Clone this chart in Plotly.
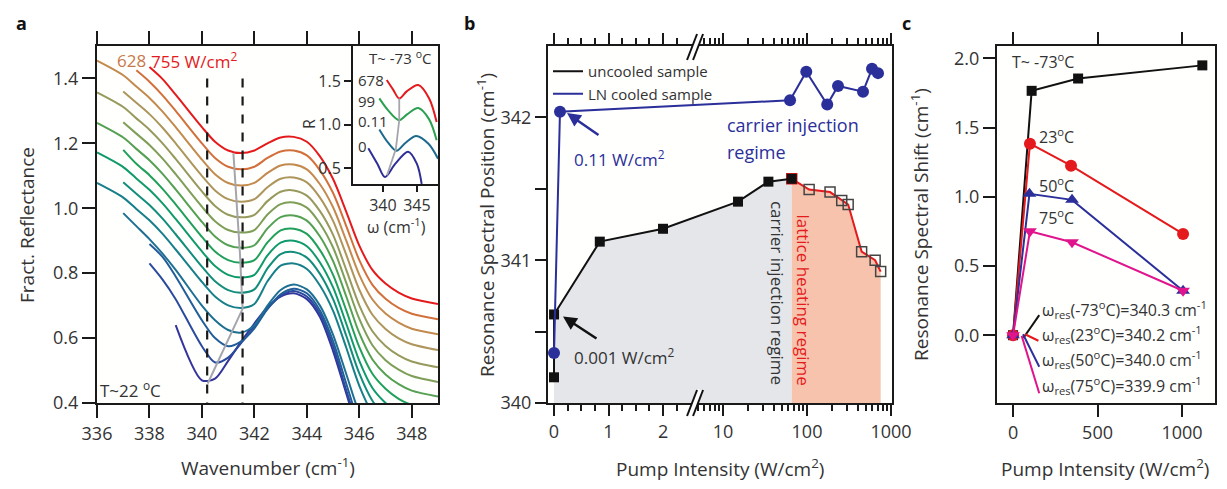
import numpy as np
import plotly.graph_objects as go

N = None
# ---------------- panel a : reflectance spectra (T~22 C) ----------------
WN = [336, 337, 337.5, 338, 338.5, 339, 340, 340.5, 341, 341.5, 342, 342.5,
      343, 343.5, 344, 344.5, 345, 345.5, 346, 346.5, 347, 347.5, 348, 349]
R_755 = [N, N, N, 1.435, 1.398, 1.35, 1.25, 1.205, 1.178, 1.17, 1.178, 1.2, 1.218, 1.22, 1.205, 1.16, 1.09, 0.99, 0.885, 0.81, 0.768, 0.74, 0.722, 0.705]
R_628 = [N, N, 1.425, 1.39, 1.348, 1.30, 1.20, 1.155, 1.128, 1.12, 1.128, 1.155, 1.175, 1.178, 1.163, 1.117, 1.047, 0.946, 0.84, 0.764, 0.721, 0.693, 0.675, 0.658]
R_c2 = [1.455, 1.41, 1.375, 1.34, 1.298, 1.25, 1.15, 1.105, 1.078, 1.07, 1.078, 1.109, 1.132, 1.135, 1.12, 1.074, 1.003, 0.901, 0.795, 0.719, 0.676, 0.648, 0.629, 0.612]
R_308 = [N, 1.36, 1.325, 1.29, 1.248, 1.20, 1.10, 1.055, 1.028, 1.02, 1.028, 1.065, 1.091, 1.095, 1.08, 1.033, 0.961, 0.857, 0.749, 0.672, 0.628, 0.599, 0.581, 0.563]
R_c4 = [1.357, 1.312, 1.277, 1.242, 1.2, 1.152, 1.052, 1.007, 0.98, 0.972, 0.98, 1.022, 1.051, 1.055, 1.039, 0.991, 0.918, 0.811, 0.701, 0.621, 0.576, 0.547, 0.528, 0.51]
R_193 = [N, 1.265, 1.23, 1.195, 1.153, 1.105, 1.005, 0.96, 0.933, 0.925, 0.933, 0.981, 1.013, 1.018, 1.002, 0.953, 0.879, 0.771, 0.659, 0.578, 0.532, 0.503, 0.483, 0.465]
R_c6 = [1.263, 1.218, 1.183, 1.148, 1.106, 1.058, 0.958, 0.913, 0.886, 0.878, 0.886, 0.938, 0.973, 0.978, 0.962, 0.913, 0.837, 0.729, 0.615, 0.534, 0.488, 0.458, 0.438, 0.42]
R_65 = [N, 1.18, 1.137, 1.102, 1.06, 1.012, 0.912, 0.867, 0.84, 0.832, 0.84, 0.895, 0.932, 0.937, 0.921, 0.871, 0.795, 0.686, 0.572, 0.49, 0.444, 0.413, 0.394, 0.375]
R_c8 = [1.172, 1.127, 1.092, 1.057, 1.015, 0.967, 0.867, 0.822, 0.795, 0.787, 0.795, 0.855, 0.894, 0.9, 0.883, 0.833, 0.756, 0.645, 0.53, 0.446, 0.4, 0.369, 0.349, 0.33]
R_15 = [N, 1.08, 1.045, 1.01, 0.968, 0.92, 0.82, 0.775, 0.748, 0.74, 0.75, 0.815, 0.859, 0.865, 0.848, 0.798, 0.72, 0.608, 0.491, 0.407, 0.36, 0.329, 0.309, 0.29]
R_c10 = [1.078, 1.033, 0.998, 0.963, 0.921, 0.873, 0.773, 0.728, 0.701, 0.693, 0.705, 0.775, 0.823, 0.83, 0.813, 0.762, 0.684, 0.571, 0.453, 0.368, 0.321, 0.289, 0.269, 0.25]
R_2 = [N, 0.985, 0.945, 0.905, 0.86, 0.81, 0.70, 0.655, 0.625, 0.617, 0.64, 0.70, 0.748, 0.765, 0.75, 0.70, 0.61, 0.49, 0.37, 0.30, N, N, N, N]
R_c12 = [N, N, N, 0.89, 0.85, 0.79, 0.655, 0.60, 0.575, 0.59, 0.63, 0.69, 0.735, 0.752, 0.738, 0.685, 0.59, 0.46, 0.33, N, N, N, N, N]
R_0001 = [N, N, N, 0.83, 0.78, 0.72, 0.575, 0.525, 0.54, 0.585, 0.635, 0.69, 0.73, 0.745, 0.728, 0.675, 0.575, 0.44, 0.31, N, N, N, N, N]
R_nopump = [N, N, N, N, N, 0.64, 0.47, 0.475, 0.53, 0.59, 0.645, 0.695, 0.728, 0.738, 0.72, 0.665, 0.56, 0.43, 0.30, N, N, N, N, N]
SPECTRA = [R_755, R_628, R_c2, R_308, R_c4, R_193, R_c6, R_65, R_c8, R_15, R_c10, R_2, R_c12, R_0001, R_nopump]
SPEC_COLORS = ['#e41a1c', '#d2703c', '#c38a4e', '#ad955c', '#979a5c', '#7f9e58', '#55a052', '#20a05a',
               '#109a6c', '#128d7c', '#177f8a', '#1d6f93', '#225d99', '#2a4a9e', '#33349c']
MIN_TRACK_X = [341.2, 341.45, 341.55, 340.22]
MIN_TRACK_Y = [1.17, 0.86, 0.69, 0.46]
DASH_X = [340.2, 341.55]

# inset (T~ -73 C)
IN_678_X = [340.56, 341.5, 342.4, 343.5, 345.2, 346.8, 347.9]
IN_678_Y = [1.51, 1.40, 1.30, 1.38, 1.454, 1.30, 1.03]
IN_99_X = [339.47, 340.8, 342.4, 343.6, 345.2, 346.8, 347.9]
IN_99_Y = [1.30, 1.16, 1.05, 1.12, 1.19, 1.06, 0.82]
IN_011_X = [339.47, 340.7, 342.0, 343.3, 344.9, 346.7, 348.1]
IN_011_Y = [0.945, 0.80, 0.70, 0.79, 0.87, 0.78, 0.61]
IN_0_X = [337.85, 339.2, 340.3, 341.8, 343.7, 345.0, 345.7]
IN_0_Y = [0.73, 0.55, 0.40, 0.55, 0.69, 0.55, 0.32]
IN_TRACK_X = [340.6, 341.9, 342.4, 342.4]
IN_TRACK_Y = [0.42, 0.72, 1.05, 1.30]

# ---------------- panel b ----------------
UNC_I = [0, 0.001, 0.84, 2.0, 15.1, 34.7, 65.8]
UNC_POS = [340.18, 340.62, 341.13, 341.22, 341.41, 341.55, 341.57]
HEAT_I = [65.8, 106, 188, 259, 309, 447, 647, 753]
HEAT_POS = [341.57, 341.495, 341.477, 341.418, 341.39, 341.06, 341.0, 340.92]
LN_I = [0, 0.11, 62.8, 98, 174, 234, 464, 594, 700]
LN_POS = [340.35, 342.04, 342.12, 342.32, 342.09, 342.22, 342.18, 342.34, 342.31]
B_TICKS = [0, 1, 2, 10, 100, 1000]
B_MINOR = [0.25, 0.5, 0.75, 1.25, 1.5, 1.75, 2.25, 5, 6, 7, 8, 9, 20, 30, 40, 50, 60, 70, 80, 90,
           200, 300, 400, 500, 600, 700, 800, 900]

# ---------------- panel c ----------------
C_I_M73 = [0, 110, 385, 1120]
C_S_M73 = [0, 1.766, 1.855, 1.95]
C_I_23 = [0, 100, 343, 1006]
C_S_23 = [0, 1.384, 1.225, 0.732]
C_I_50 = [0, 97, 349, 1006]
C_S_50 = [0, 1.022, 0.978, 0.321]
C_I_75 = [0, 100, 349, 1006]
C_S_75 = [0, 0.751, 0.672, 0.321]


def bx(v):
    """broken pump-intensity axis: linear 0..2.6, then log from ~4.4"""
    v = np.asarray(v, dtype=float)
    return np.where(v <= 2.6, v, 3.10 + (np.log10(np.maximum(v, 1e-9)) - 1.0) * 1.541)


# page body has an 8px margin: figure spans window pixels 8..1219 x 8..481
W, H, OFF = 1211, 473, 8
def PX(px):
    return (px - OFF) / W
def PY(py):
    return 1 - (py - OFF) / H


FONT = "Open Sans"
TXT = "#333333"
AX = "#1a1a1a"
BLUE = "#2b2f9a"
RED = "#e41a1c"
MAG = "#e0148c"

fig = go.Figure()

# ---- panel a traces
for ys, col in list(zip(SPECTRA, SPEC_COLORS))[::-1]:
    fig.add_trace(go.Scatter(x=WN, y=ys, mode="lines", line=dict(color=col, width=2, shape="spline", smoothing=0.8),
                             showlegend=False, xaxis="x", yaxis="y", hoverinfo="skip"))
fig.add_trace(go.Scatter(x=MIN_TRACK_X, y=MIN_TRACK_Y, mode="lines", line=dict(color="#a5a5ad", width=2),
                         showlegend=False, xaxis="x", yaxis="y"))
for dx in DASH_X:
    fig.add_trace(go.Scatter(x=[dx, dx], y=[1.40, 0.40], mode="lines", line=dict(color="#1a1a1a", width=2.2, dash="dash"),
                             showlegend=False, xaxis="x", yaxis="y"))

# inset traces
for xs, ys, col in [(IN_0_X, IN_0_Y, '#2e2e96'), (IN_011_X, IN_011_Y, '#1d6a8e'),
                    (IN_99_X, IN_99_Y, '#2aa050'), (IN_678_X, IN_678_Y, RED)]:
    fig.add_trace(go.Scatter(x=xs, y=ys, mode="lines", line=dict(color=col, width=2, shape="spline", smoothing=0.9),
                             showlegend=False, xaxis="x4", yaxis="y4"))
fig.add_trace(go.Scatter(x=IN_TRACK_X, y=IN_TRACK_Y, mode="lines", line=dict(color="#a5a5ad", width=1.8),
                         showlegend=False, xaxis="x4", yaxis="y4"))

# ---- panel b traces
fig.add_trace(go.Scatter(x=bx(UNC_I[1:]), y=UNC_POS[1:], mode="lines", fill="tozeroy", fillcolor="#e4e6ea",
                         line=dict(width=0, color="rgba(0,0,0,0)"), showlegend=False, xaxis="x2", yaxis="y2"))
fig.add_trace(go.Scatter(x=bx(HEAT_I), y=HEAT_POS, mode="lines", fill="tozeroy", fillcolor="#f7c3ad",
                         line=dict(width=0, color="rgba(0,0,0,0)"), showlegend=False, xaxis="x2", yaxis="y2"))
fig.add_trace(go.Scatter(x=bx(HEAT_I), y=HEAT_POS, mode="lines+markers", line=dict(color=RED, width=2),
                         marker=dict(symbol=["square"] + ["square-open"] * (len(HEAT_I) - 1), size=10,
                                     color=["#111111"] + ["#444444"] * (len(HEAT_I) - 1), line=dict(width=1.5)),
                         showlegend=False, xaxis="x2", yaxis="y2"))
fig.add_trace(go.Scatter(x=bx(UNC_I), y=UNC_POS, mode="lines+markers", line=dict(color="#111111", width=2),
                         marker=dict(symbol="square", size=10, color="#111111"),
                         showlegend=False, xaxis="x2", yaxis="y2"))
fig.add_trace(go.Scatter(x=bx(LN_I), y=LN_POS, mode="lines+markers", line=dict(color=BLUE, width=2),
                         marker=dict(symbol="circle", size=12, color=BLUE),
                         showlegend=False, xaxis="x2", yaxis="y2"))
# legend entries (lines only)
fig.add_trace(go.Scatter(x=[None], y=[None], mode="lines", line=dict(color="#111111", width=2),
                         name="uncooled sample", xaxis="x2", yaxis="y2"))
fig.add_trace(go.Scatter(x=[None], y=[None], mode="lines", line=dict(color=BLUE, width=2),
                         name="LN cooled sample", xaxis="x2", yaxis="y2"))

# ---- panel c traces
for xs, ys, col, sym, sz in [(C_I_M73, C_S_M73, "#111111", "square", 10),
                             (C_I_23, C_S_23, RED, "circle", 12),
                             (C_I_50, C_S_50, BLUE, "triangle-up", 12),
                             (C_I_75, C_S_75, MAG, "triangle-down", 12)]:
    fig.add_trace(go.Scatter(x=xs, y=ys, mode="lines+markers", line=dict(color=col, width=2),
                             marker=dict(symbol=sym, size=sz, color=col),
                             showlegend=False, xaxis="x3", yaxis="y3"))

YDOM = [PY(403), PY(46)]
tickfont = dict(family=FONT, size=18, color=TXT)
common = dict(showline=True, linecolor=AX, linewidth=2, ticks="outside", tickcolor=AX, tickwidth=2,
              showgrid=False, zeroline=False, tickfont=tickfont, automargin=False)
small = dict(family=FONT, size=16, color=TXT)

fig.update_layout(
    width=W, height=H, margin=dict(l=0, r=0, t=0, b=0, autoexpand=False),
    paper_bgcolor="#ffffff", plot_bgcolor="#fffffe",
    font=dict(family=FONT, color=TXT),
    xaxis=dict(domain=[PX(97), PX(438)], range=[336, 349], tickvals=[336, 338, 340, 342, 344, 346, 348],
               ticklen=13, mirror="ticks", anchor="y", **common),
    yaxis=dict(domain=YDOM, range=[0.4, 1.5], tickvals=[0.4, 0.6, 0.8, 1.0, 1.2, 1.4], tickformat=".1f",
               ticklen=13, mirror=True, anchor="x", **common),
    xaxis4=dict(domain=[PX(353), PX(438)], range=[335.6, 348.1], tickvals=[340, 345], ticklen=6,
                mirror=True, anchor="y4", **{**common, "tickfont": small}),
    yaxis4=dict(domain=[PY(184), YDOM[1]], range=[0.32, 1.9], tickvals=[0.5, 1.0, 1.5], tickformat=".1f",
                ticklen=7, mirror=True, anchor="x4", **{**common, "tickfont": small}),
    xaxis2=dict(domain=[PX(548), PX(892)], range=[-0.11, 6.2], tickvals=list(bx(B_TICKS)),
                ticktext=[str(t) for t in B_TICKS], ticklen=11, mirror="ticks", anchor="y2",
                minor=dict(tickvals=list(bx(B_MINOR)), ticklen=6, tickwidth=1.5, tickcolor=AX, ticks="outside"),
                **common),
    yaxis2=dict(domain=YDOM, range=[340, 342.5], tickvals=[340, 341, 342], ticklen=11, mirror=True, anchor="x2",
                minor=dict(tickvals=[340.5, 341.5], ticklen=11, tickwidth=2, tickcolor=AX, ticks="outside"),
                **common),
    xaxis3=dict(domain=[PX(997), PX(1215)], range=[-95, 1195], tickvals=[0, 500, 1000], ticklen=12,
                mirror="ticks", anchor="y3", **common),
    yaxis3=dict(domain=YDOM, range=[-0.49, 2.09], tickvals=[0, 0.5, 1.0, 1.5, 2.0], tickformat=".1f", ticklen=12,
                mirror=True, anchor="x3", **common),
    legend=dict(x=PX(548), y=PY(55), xanchor="left", yanchor="top", bgcolor="rgba(0,0,0,0)",
                font=dict(family=FONT, size=15, color=TXT), tracegroupgap=0, itemwidth=30),
)

ann = []
def paper_text(px, py, s, size=19, angle=0, bold=False, xanchor="center", color=TXT, yanchor="middle"):
    ann.append(dict(x=PX(px), y=PY(py), xref="paper", yref="paper", text=("<b>%s</b>" % s) if bold else s,
                    showarrow=False, xanchor=xanchor, yanchor=yanchor, textangle=angle,
                    font=dict(family=FONT, size=size, color=color)))

def txt(x, y, s, ref, size=17, color=TXT, xanchor="left", angle=0):
    ann.append(dict(x=x, y=y, text=s, xref="x" + ref if ref else "x", yref="y" + ref if ref else "y",
                    showarrow=False, xanchor=xanchor, yanchor="middle", textangle=angle,
                    font=dict(family=FONT, size=size, color=color)))

# panel letters
paper_text(14, 9, "a", size=18, bold=True, xanchor="left", color="#111", yanchor="top")
paper_text(462, 9, "b", size=18, bold=True, xanchor="left", color="#111", yanchor="top")
paper_text(900, 9, "c", size=18, bold=True, xanchor="left", color="#111", yanchor="top")

# axis titles
paper_text(268, 467, "Wavenumber (cm<sup>-1</sup>)")
paper_text(27, 225, "Fract. Reflectance", angle=-90)
paper_text(396, 226, "ω (cm<sup>-1</sup>)", size=16)
paper_text(309, 124, "R", size=16, angle=-90)
paper_text(720, 468, "Pump Intensity (W/cm<sup>2</sup>)")
paper_text(486, 225, "Resonance Spectral Position (cm<sup>-1</sup>)", angle=-90)
paper_text(1105, 468, "Pump Intensity (W/cm<sup>2</sup>)")
paper_text(920, 225, "Resonance Spectral Shift (cm<sup>-1</sup>)", angle=-90)

# panel a labels
txt(336.7, 1.455, "628", "", color="#c8784a")
txt(338.0, 1.455, "755 W/cm<sup>2</sup>", "", color=RED)
txt(335.95, 1.388, "308", "", color="#a8905e")
txt(335.95, 1.295, "193", "", color="#7fa060")
txt(335.95, 1.203, "65", "", color="#20a05a")
txt(335.95, 1.100, "15", "", color="#178a80")
txt(335.95, 0.985, "2.0", "", color="#2f7fa0")
txt(335.95, 0.865, "0.001", "", color="#3f62a8")
txt(335.95, 0.717, "No Pump", "", color="#4b3fa8")
txt(336.05, 0.443, "T~22 <sup>o</sup>C", "", color=TXT)
# inset labels
txt(342.5, 1.764, "T~ -73 <sup>o</sup>C", "4", size=15, xanchor="center")
txt(336.1, 1.51, "678", "4", size=15)
txt(336.1, 1.27, "99", "4", size=15)
txt(336.1, 1.04, "0.11", "4", size=15)
txt(336.1, 0.75, "0", "4", size=15)

# panel b labels
def bpx(px):
    return (px - 554) / 54.5
txt(bpx(572), 341.71, "0.11 W/cm<sup>2</sup>", "2", color=BLUE)
txt(bpx(572), 340.324, "0.001 W/cm<sup>2</sup>", "2", color=TXT)
txt(bpx(725), 341.944, "carrier injection", "2", size=18, color=BLUE)
txt(bpx(725), 341.76, "regime", "2", size=18, color=BLUE)
txt(bpx(778), 340.77, "carrier injection regime", "2", size=17, color=TXT, xanchor="center", angle=90)
txt(bpx(803), 340.725, "lattice heating regime", "2", size=17, color=RED, xanchor="center", angle=90)
ann.append(dict(x=bpx(567), y=342.03, xref="x2", yref="y2", ax=33, ay=23, text="", showarrow=True,
                arrowhead=2, arrowsize=1.1, arrowwidth=2.5, arrowcolor=BLUE))
ann.append(dict(x=bpx(563), y=340.606, xref="x2", yref="y2", ax=35, ay=23, text="", showarrow=True,
                arrowhead=2, arrowsize=1.1, arrowwidth=2.5, arrowcolor="#111"))

# panel c labels
txt(-18, 1.985, "T~ -73<sup>o</sup>C", "3", size=16)
txt(142, 1.442, "23<sup>o</sup>C", "3", size=16)
txt(142, 1.087, "50<sup>o</sup>C", "3", size=16)
txt(142, 0.855, "75<sup>o</sup>C", "3", size=16)
txt(158, 0.188, "ω<sub>res</sub>(-73<sup>o</sup>C)=340.3 cm<sup>-1</sup>", "3", size=16)
txt(158, 0.002, "ω<sub>res</sub>(23<sup>o</sup>C)=340.2 cm<sup>-1</sup>", "3", size=16)
txt(158, -0.174, "ω<sub>res</sub>(50<sup>o</sup>C)=340.0 cm<sup>-1</sup>", "3", size=16)
txt(158, -0.367, "ω<sub>res</sub>(75<sup>o</sup>C)=339.9 cm<sup>-1</sup>", "3", size=16)
fig.update_layout(annotations=ann)

shapes = []
for (x0, y0, x1, y1, col) in [(61, -0.02, 155, 0.145, "#111"), (71, 0.007, 150, -0.04, RED),
                              (59, 0.007, 155, -0.228, BLUE), (51, -0.005, 155, -0.42, MAG)]:
    shapes.append(dict(type="line", xref="x3", yref="y3", x0=x0, y0=y0, x1=x1, y1=y1, line=dict(color=col, width=2)))
# axis-break marks on panel b (bottom and top)
for yc in [403, 47]:
    yb, yt = PY(yc + 13), PY(yc - 13)
    shapes.append(dict(type="line", xref="x2", yref="paper", x0=bpx(690), y0=yb, x1=bpx(700), y1=yt,
                       line=dict(color="white", width=5)))
    for off in (0, 6):
        shapes.append(dict(type="line", xref="x2", yref="paper", x0=bpx(687 + off), y0=yb, x1=bpx(697 + off), y1=yt,
                           line=dict(color="#111", width=2)))
fig.update_layout(shapes=shapes)

fig.write_html("out.html")
